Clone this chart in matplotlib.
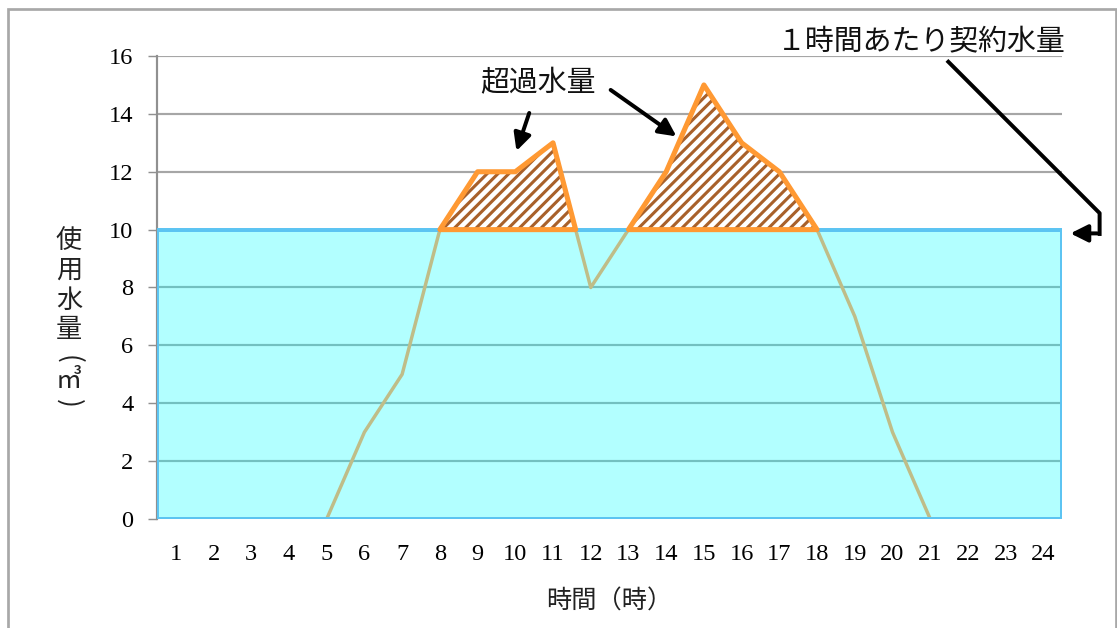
import numpy as np
import matplotlib.pyplot as plt
from matplotlib.patches import Rectangle

# hourly water use (m3)
hours = np.arange(1, 25)
usage = [0, 0, 0, 0, 0, 3, 5, 10, 12, 12, 13, 8, 10, 12, 15, 13, 12, 10, 7, 3, 0, 0, 0, 0]
contract = 10
yticks = [0, 2, 4, 6, 8, 10, 12, 14, 16]

plt.rcParams['font.family'] = ['Noto Sans CJK JP', 'DejaVu Sans']
plt.rcParams['hatch.linewidth'] = 1.7

dpi = 130
fig = plt.figure(figsize=(1117 / dpi, 628 / dpi), dpi=dpi)
ax = fig.add_axes([0.1405, 0.1736, 0.8105, 0.7372])

# outer frame
fig.patches.append(Rectangle((8 / 1117, -0.05), 1108 / 1117, 1.05 - 9 / 628,
                             transform=fig.transFigure, fill=False, edgecolor='#a8a8a8', lw=1.5))

ax.set_xlim(0.5, 24.5)
ax.set_ylim(0, 16)

for y in yticks[1:]:
    ax.axhline(y, color='#a6a6a6', lw=1.2, zorder=1)

# contract volume rectangle
ax.add_patch(Rectangle((0.5, 0), 24, contract, facecolor='#00ffff', alpha=0.3, edgecolor='none', zorder=2))
ax.add_patch(Rectangle((0.5, 0), 24, contract, facecolor='none', edgecolor='#5cc4f2', lw=2.2, zorder=4))

ax.plot(hours, usage, color='#bfbd88', lw=1.9, zorder=3)

# excess over contract: brown hatch, orange outline
u = np.array(usage, dtype=float)
over = u >= contract
ax.fill_between(hours, contract, u, where=over, interpolate=True,
                facecolor='white', edgecolor='#a8602a', hatch='////', lw=0, zorder=5)
ax.fill_between(hours, contract, u, where=over, interpolate=True,
                facecolor='none', edgecolor='#ff9933', lw=2.8, zorder=6)

ax.set_yticks(yticks)
ax.set_xticks(hours)
ax.set_xticklabels([str(h) for h in hours], family='Liberation Serif', fontsize=13.5)
ax.set_yticklabels([str(v) for v in yticks], family='Liberation Serif', fontsize=13.5)
ax.tick_params(axis='y', length=5, color='#909090', pad=8)
ax.tick_params(axis='x', length=0, pad=14)
for s in ['top', 'right', 'bottom']:
    ax.spines[s].set_visible(False)
ax.spines['left'].set_color('#909090')
ax.spines['left'].set_linewidth(1.2)

ax.set_xlabel('時間（時）', fontsize=14, labelpad=13, color='#222222')

# vertical y label, one character per row
ylab = ['使', '用', '水', '量', '(', '㎥', ')']
ylab_y = [240, 270, 300, 329, 359, 381, 403]
for ch, py in zip(ylab, ylab_y):
    rot = -90 if ch in '()' else 0
    fig.text(69 / 1117, 1 - py / 628, ch, fontsize=14.5, ha='center', va='center',
             rotation=rot, color='#222222')

# annotations
arrow = dict(arrowstyle='-|>', color='black', lw=2.2, mutation_scale=20)
ax.text(10.6, 15.05, '超過水量', fontsize=16, ha='center', va='center', color='#111111')
ax.annotate('', xy=(10.0, 12.6), xytext=(10.4, 14.15), arrowprops=arrow, annotation_clip=False)
ax.annotate('', xy=(14.35, 13.15), xytext=(12.45, 14.9), arrowprops=arrow, annotation_clip=False)

ax.text(20.75, 16.5, '１時間あたり契約水量', fontsize=16, ha='center', va='center', color='#111111',
        clip_on=False)
ax.plot([21.48, 25.49, 25.49], [15.8, 10.57, 9.85], color='black', lw=2.2, clip_on=False, zorder=7)
ax.annotate('', xy=(24.62, 9.87), xytext=(25.52, 9.87), arrowprops=arrow, annotation_clip=False)

fig.savefig('out.png', dpi=dpi)
